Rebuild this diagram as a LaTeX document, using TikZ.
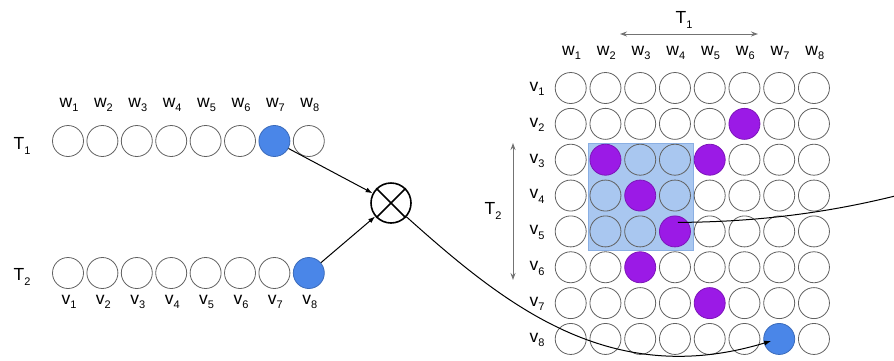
\documentclass[tikz,border=0pt]{standalone}
\usepackage{fontspec}
\setmainfont{Liberation Sans}
\usetikzlibrary{arrows.meta,calc}
\definecolor{dotblue}{HTML}{4A86E8}
\definecolor{dotpurple}{HTML}{9B1AE6}
\definecolor{boxblue}{HTML}{A9C7F0}
\definecolor{boxedge}{HTML}{8AAFE3}
\newcommand{\sbs}[1]{\raisebox{-0.25em}{\fontsize{11}{12}\selectfont #1}}
\begin{document}
\begin{tikzpicture}[x=1pt,y=-1pt,
  cell/.style={circle,draw=black!62,line width=0.8pt,minimum size=31pt,inner sep=0pt},
  bluecell/.style={fill=dotblue,draw=dotblue!80!black},
  purplecell/.style={fill=dotpurple,draw=dotpurple!80!black},
  lab/.style={font=\fontsize{17.5}{19}\selectfont,inner sep=0pt},
  conn/.style={-{Latex[length=7pt,width=5pt]},line width=1pt},
  span/.style={{Stealth[length=7pt,width=5pt]}-{Stealth[length=7pt,width=5pt]},draw=black!55,line width=1pt},
  a7/.style={bluecell}, b8/.style={bluecell},
  g26/.style={purplecell}, g32/.style={purplecell}, g35/.style={purplecell},
  g43/.style={purplecell}, g54/.style={purplecell}, g63/.style={purplecell},
  g75/.style={purplecell}, g87/.style={bluecell}
]
\useasboundingbox (0,0) rectangle (894,360);

% ---- left rows ----
\node[lab] (t1a) at (22,146) {T\sbs{1}};
\node[lab] (t2a) at (22,277) {T\sbs{2}};
\foreach \i in {1,...,8}{
  \node[cell,a\i/.try] (a\i) at ({68+(\i-1)*34.4},141) {};
  \node[lab] (wa\i) at ({69+(\i-1)*34.4},105) {w\sbs{\i}};
  \node[cell,b\i/.try] (b\i) at ({68+(\i-1)*34.4},273) {};
  \node[lab] (vb\i) at ({69+(\i-1)*34.4},302) {v\sbs{\i}};
}

% ---- combiner ----
\node[circle,draw,line width=1.6pt,minimum size=40pt,inner sep=0pt] (ot) at (391,203) {};
\draw[line width=1.6pt] (ot.45) -- (ot.225) (ot.135) -- (ot.315);
\draw[conn] (a7) -- (ot);
\draw[conn] (b8) -- (ot);

% ---- right grid ----
\fill[boxblue,draw=boxedge,line width=0.6pt] (588,143) rectangle (693,250);
\foreach \c in {1,...,8}{
  \node[lab] (wg\c) at ({571.5+(\c-1)*34.75},53) {w\sbs{\c}};
}
\foreach \r in {1,...,8}{
  \node[lab] (vg\r) at (537,{89+(\r-1)*35.85}) {v\sbs{\r}};
  \foreach \c in {1,...,8}{
    \node[cell,g\r\c/.try] (g\r\c) at ({570.7+(\c-1)*34.75},{88+(\r-1)*35.85}) {};
  }
}

% ---- span arrows ----
\coordinate (t1l) at (620,34);
\coordinate (t1r) at (758,34);
\draw[span] (t1l) -- (t1r);
\node[lab] (t1b) at (684,20) {T\sbs{1}};
\coordinate (t2t) at (513,143);
\coordinate (t2b) at (513,280);
\draw[span] (t2t) -- (t2b);
\node[lab] (t2b) at (493,211) {T\sbs{2}};

% ---- connectors ----
\draw[conn] (ot) .. controls (505,305) and (610,390) .. ([shift={(-8,2)}]g87.center);
\coordinate (edge) at (895,196);
\draw[line width=1pt] ([shift={(3,-9)}]g54.center) .. controls (760,222) and (830,212) .. (edge);
\end{tikzpicture}
\end{document}
